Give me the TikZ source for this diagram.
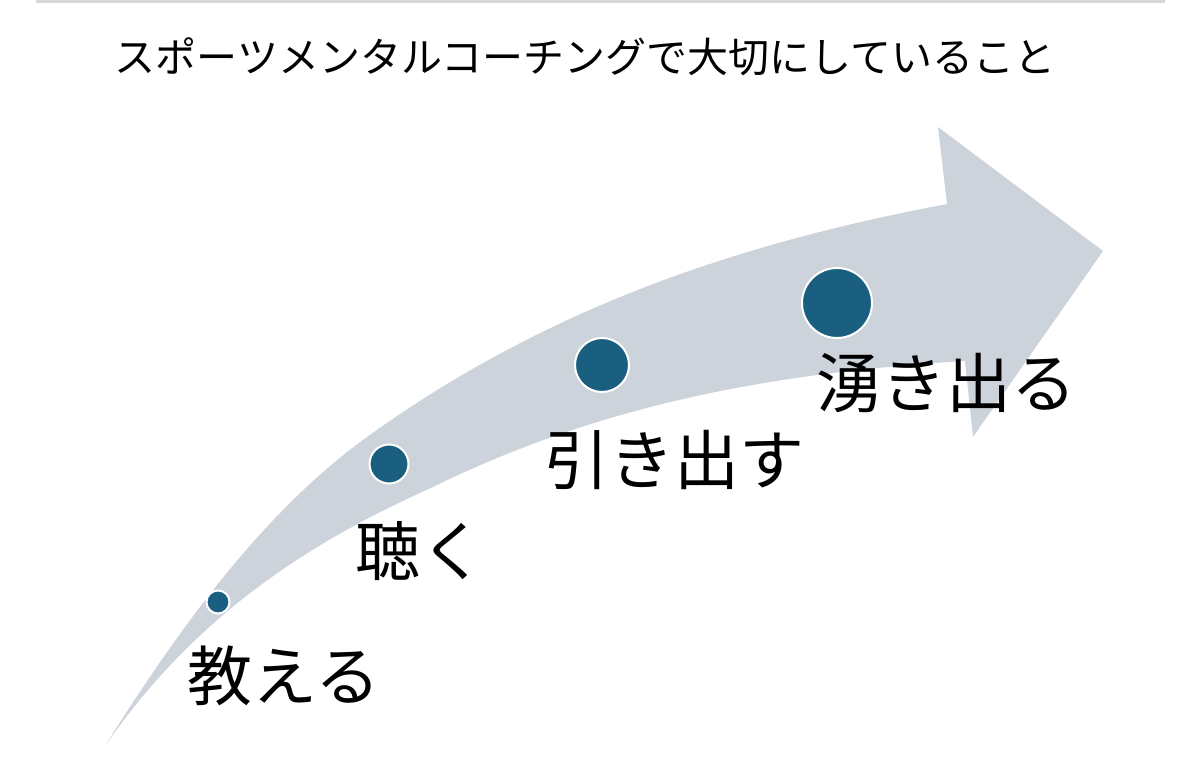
\documentclass[tikz,border=0pt]{standalone}
\usepackage{fontspec}
\newfontfamily\jp{Noto Sans CJK JP}
\definecolor{arrowgray}{RGB}{205,211,218}
\definecolor{dotblue}{RGB}{26,95,128}
\definecolor{rulegray}{RGB}{215,215,215}
\begin{document}
\begin{tikzpicture}[x=0.5pt,y=-0.5pt,
  dot/.style={circle,fill=dotblue,draw=white,line width=1pt,inner sep=0pt},
  stage/.style={font=\jp\fontsize{32.5}{38}\selectfont,inner sep=0pt},
  heading/.style={font=\jp\fontsize{20.5}{25}\selectfont,inner sep=0pt}]
\useasboundingbox (0,0) rectangle (1200,780);
\fill[rulegray] (36,0) rectangle (1165,3);
% arrow
\fill[arrowgray]
  (105,746) .. controls (195,602) and (277,502) .. (367,437)
  .. controls (557,300) and (757,240) .. (947,204)
  -- (938,127) -- (1103,251) -- (973,437) -- (965,361)
  .. controls (788,372) and (610,400) .. (433,487)
  .. controls (333,532) and (205,601) .. (105,746)
  -- cycle;
% dots
\node[dot,minimum size=11.5pt] (d1) at (218,602) {};
\node[dot,minimum size=19.5pt] (d2) at (389,464) {};
\node[dot,minimum size=27pt] (d3) at (602,365) {};
\node[dot,minimum size=35pt] (d4) at (837,303) {};
% labels
\node[stage] (l1) at (284,676) {教える};
\node[stage] (l2) at (420,551) {聴く};
\node[stage] (l3) at (674,460) {引き出す};
\node[stage] (l4) at (946,383) {湧き出る};
\node[heading] (title) at (585,57) {スポーツメンタルコーチングで大切にしていること};
\end{tikzpicture}
\end{document}
